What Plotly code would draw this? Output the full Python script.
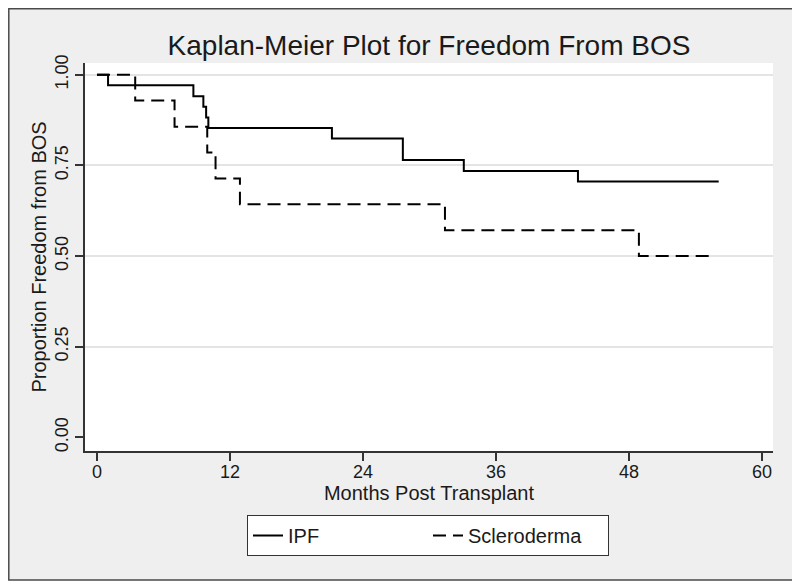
import plotly.graph_objects as go

# ---- data ----
ipf_months = [0, 1.0, 8.7, 9.6, 9.85, 10.05, 21.2, 27.6, 33.1, 43.4, 56.1]
ipf_surv = [1.0, 0.971, 0.941, 0.912, 0.882, 0.853, 0.824, 0.765, 0.735, 0.706, 0.706]
scl_months = [0, 3.45, 7.0, 9.95, 10.7, 12.9, 31.4, 48.9, 55.8]
scl_surv = [1.0, 0.929, 0.857, 0.786, 0.714, 0.643, 0.571, 0.5, 0.5]

x_ticks = [0, 12, 24, 36, 48, 60]
y_ticks = [0, 0.25, 0.5, 0.75, 1.0]
y_tick_text = ["0.00", "0.25", "0.50", "0.75", "1.00"]
grid_vals = [0.25, 0.5, 0.75, 1.0]

FONT = "Liberation Sans, Arial, sans-serif"
INK = "#1a1a1a"
x_range = [-1.08, 61.0]
y_range = [-0.0375, 1.0325]

# the page body adds an 8px margin, so the figure is laid out 8px smaller
W, H = 792, 580
L, R, T, B = 77, 27, 55, 137
PW, PH = W - L - R, H - T - B

fig = go.Figure()
# empty helper trace so the grid-only overlay axis is drawn
fig.add_trace(go.Scatter(x=[], y=[], yaxis="y2", showlegend=False, hoverinfo="skip"))
fig.add_trace(go.Scatter(x=ipf_months, y=ipf_surv, mode="lines", name="IPF",
                         line=dict(color="black", width=2, shape="hv")))
fig.add_trace(go.Scatter(x=scl_months, y=scl_surv, mode="lines", name="Scleroderma",
                         line=dict(color="black", width=2, shape="hv", dash="13px,7px")))

fig.update_layout(
    width=W, height=H, autosize=False,
    margin=dict(l=L, r=R, t=T, b=B),
    paper_bgcolor="white",
    plot_bgcolor="rgba(0,0,0,0)",
    font=dict(family=FONT, color=INK, size=18),
    title=dict(text="Kaplan-Meier Plot for Freedom From BOS", x=0.5, xref="paper",
               xanchor="center", y=1 - 37 / H, yref="container", yanchor="middle",
               font=dict(size=28, family=FONT, color=INK)),
    xaxis=dict(range=x_range, tickvals=x_ticks, ticks="outside", ticklen=8,
               tickwidth=1.5, tickcolor="#333", showline=True, linecolor="#333",
               linewidth=1.5, showgrid=False, zeroline=False,
               tickfont=dict(size=18), ticklabelstandoff=-4,
               title=dict(text="Months Post Transplant", font=dict(size=20), standoff=0)),
    yaxis=dict(range=y_range, tickvals=y_ticks, ticktext=y_tick_text, tickangle=-90,
               ticks="outside", ticklen=8, tickwidth=1.5, tickcolor="#333",
               showline=True, linecolor="#333", linewidth=1.5, showgrid=False,
               zeroline=False, tickfont=dict(size=18),
               title=dict(text="Proportion Freedom from BOS", font=dict(size=20), standoff=0)),
    yaxis2=dict(range=y_range, overlaying="y", anchor="x", tickvals=grid_vals,
                showgrid=True, gridcolor="#e4e4e4", gridwidth=1.5,
                showticklabels=False, ticks="", showline=False, zeroline=False),
    legend=dict(orientation="h", x=(239 - L) / PW, xanchor="left",
                y=(T + PH - 507) / PH, yanchor="top", bgcolor="white",
                bordercolor="#333", borderwidth=1, font=dict(size=20, family=FONT),
                entrywidth=135),
    showlegend=True,
    shapes=[
        dict(type="rect", xref="paper", yref="paper", x0=(0.8 - L) / PW,
             x1=(786 - L) / PW, y0=(T + PH - 572) / PH, y1=(T + PH - 0.8) / PH,
             fillcolor="#efefef", line=dict(color="#4a4a4a", width=1.5), layer="below"),
        dict(type="rect", xref="paper", yref="paper", x0=0, x1=1, y0=0, y1=1,
             fillcolor="white", line=dict(width=0), layer="below"),
    ],
)

fig.write_html("out.html")
